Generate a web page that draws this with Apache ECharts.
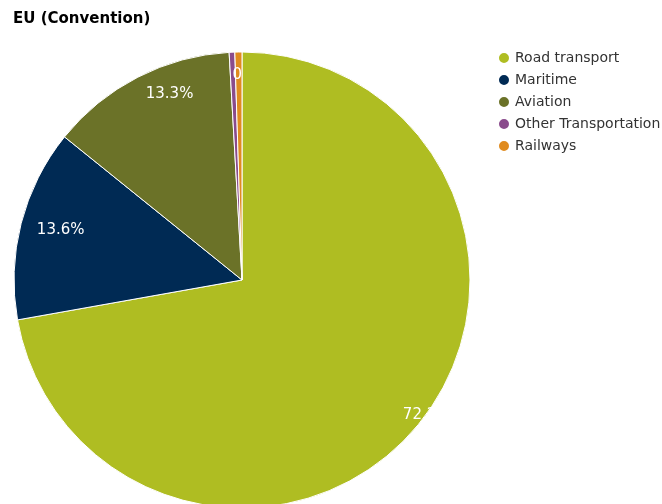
<!DOCTYPE html>
<html>
<head>
<meta charset="utf-8">
<script src="https://cdn.jsdelivr.net/npm/echarts@6/dist/echarts.min.js"></script>
<style>
  html, body { margin: 0; padding: 0; background: #fff; }
  #chart { width: 662px; height: 504px; }
</style>
</head>
<body>
<div id="chart"></div>
<script>
const categories = ['Road transport', 'Maritime', 'Aviation', 'Other Transportation', 'Railways']
const shares = [72.2, 13.6, 13.3, 0.4, 0.5]
const colors = ['#afbd22', '#002a54', '#6b7228', '#8a4b8c', '#e08b1f']

// shift from the default "inside" spot (half radius) out to where the labels sit
const labelShift = [[95, 60], [-68, -21], [-19, -82], [0, 0], [-3, -88]]

const chart = echarts.init(document.getElementById('chart'), null, { renderer: 'canvas' })

const fontFamily = 'DejaVu Sans'

chart.setOption({
  animation: false,
  title: {
    text: 'EU (Convention)',
    left: 13,
    top: 12,
    padding: 0,
    textStyle: { fontFamily, fontSize: 15, fontWeight: 'bold', color: '#000' }
  },
  legend: {
    orient: 'vertical',
    left: 497,
    top: 51,
    padding: 0,
    icon: 'circle',
    itemWidth: 12,
    itemHeight: 12,
    itemGap: 8,
    textStyle: { fontFamily, fontSize: 14, color: '#333' },
    data: categories
  },
  series: [{
    type: 'pie',
    center: [242, 280],
    radius: [0, 228],
    startAngle: 90,
    clockwise: true,
    silent: true,
    itemStyle: { borderColor: '#fff', borderWidth: 1 },
    label: {
      show: true,
      position: 'inside',
      color: '#fff',
      fontFamily,
      fontSize: 15,
      formatter: p => p.value.toFixed(1) + '%'
    },
    labelLine: { show: false },
    labelLayout: p => ({ dx: labelShift[p.dataIndex][0], dy: labelShift[p.dataIndex][1] }),
    data: categories.map((name, i) => {
      const item = { name, value: shares[i], itemStyle: { color: colors[i] } }
      if (i === 3) item.label = { show: false }
      if (i === 4) item.label = { width: 12, overflow: 'truncate', ellipsis: '' }
      return item
    })
  }]
})
</script>
</body>
</html>
